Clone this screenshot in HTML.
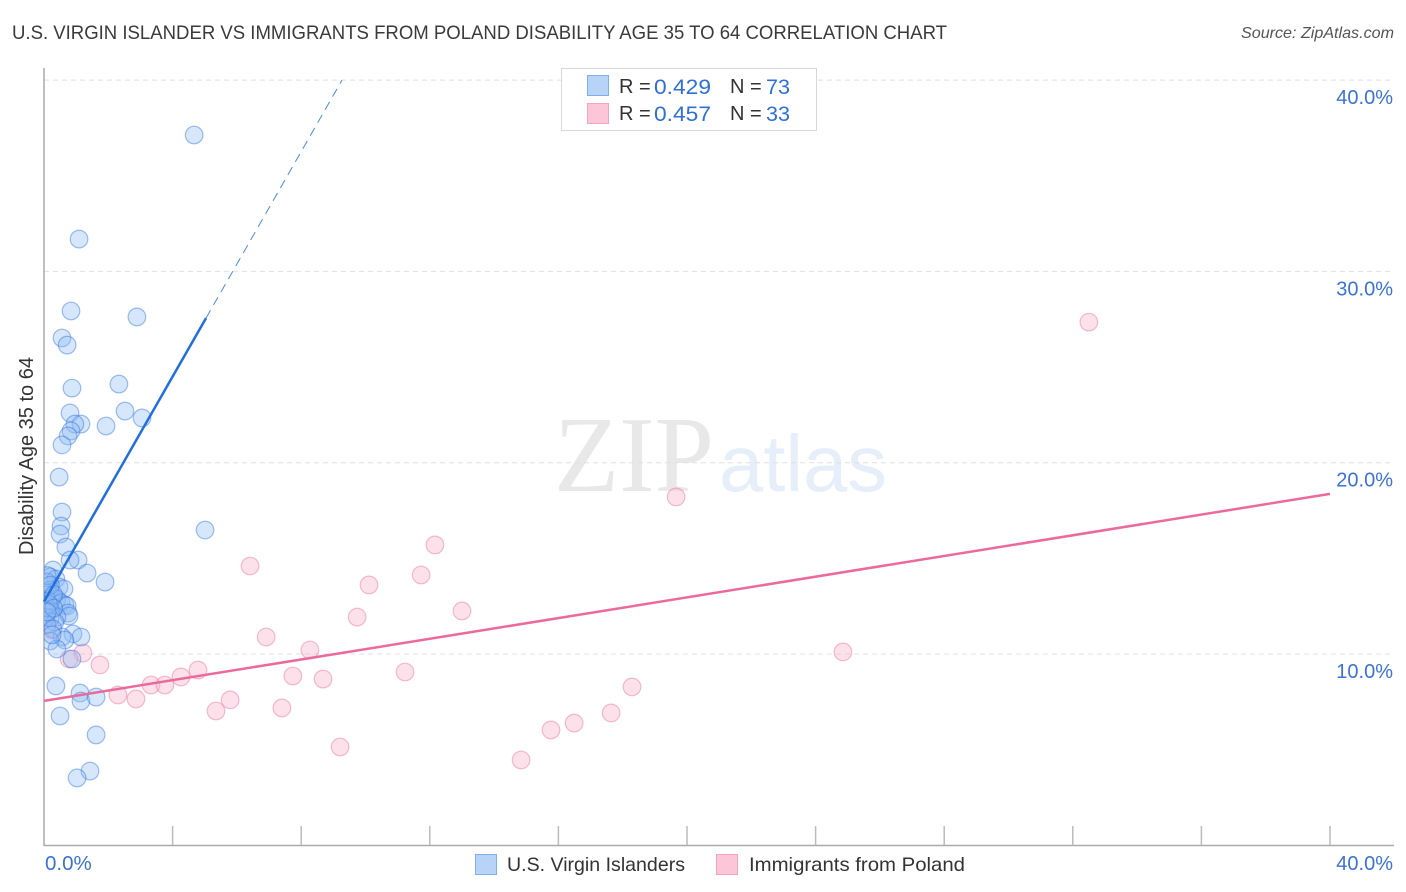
<!DOCTYPE html>
<html>
<head>
<meta charset="utf-8">
<title>U.S. Virgin Islander vs Immigrants from Poland Disability Age 35 to 64 Correlation Chart</title>
<style>
html,body{margin:0;padding:0;background:#fff;width:1406px;height:892px;overflow:hidden}
svg{display:block}
text{font-family:"Liberation Sans",sans-serif}
</style>
</head>
<body>
<svg id="chart" width="1406" height="892" viewBox="0 0 1406 892" xmlns="http://www.w3.org/2000/svg">
  <defs>
    <clipPath id="plot-clip"><rect x="44" y="60" width="1350" height="786"/></clipPath>
  </defs>
  <rect x="0" y="0" width="1406" height="892" fill="#ffffff"/>
  <text x="12" y="39" font-size="19" fill="#3a3a3a" textLength="935" lengthAdjust="spacingAndGlyphs">U.S. VIRGIN ISLANDER VS IMMIGRANTS FROM POLAND DISABILITY AGE 35 TO 64 CORRELATION CHART</text>
  <text x="1241" y="38" font-size="16" font-style="italic" fill="#555555" textLength="153" lengthAdjust="spacingAndGlyphs">Source: ZipAtlas.com</text>

  <g id="watermark">
    <text x="554" y="491" font-size="108" fill="#e8e8e8" style="font-family:'Liberation Serif',serif" textLength="160" lengthAdjust="spacingAndGlyphs">ZIP</text>
    <text x="719" y="491" font-size="80" fill="#e6eefa" textLength="168" lengthAdjust="spacingAndGlyphs">atlas</text>
  </g>

  <g id="grid"></g>
  <g id="axes"></g>
  <g id="pink-points" clip-path="url(#plot-clip)"></g>
  <g id="blue-points" clip-path="url(#plot-clip)"></g>
  <g id="trend-lines"></g>
  <g id="tick-labels"></g>

  <text transform="translate(33,456) rotate(-90)" font-size="20" fill="#333333" text-anchor="middle" textLength="198" lengthAdjust="spacingAndGlyphs">Disability Age 35 to 64</text>

  <g>
    <rect x="561.5" y="68.5" width="255" height="62" fill="#ffffff" stroke="#d8d8d8" stroke-width="1"/>
    <rect x="587.5" y="75.5" width="21" height="20" fill="#b8d3f8" stroke="#7fb0ec"/>
    <rect x="587.5" y="103.5" width="21" height="20" fill="#fcc6d8" stroke="#f3a5c0"/>
    <text x="619" y="93" font-size="20" fill="#333333">R =</text>
    <text x="654" y="94" font-size="21.5" fill="#2f6fd6" textLength="57" lengthAdjust="spacingAndGlyphs">0.429</text>
    <text x="730" y="93" font-size="20" fill="#333333">N =</text>
    <text x="766" y="94" font-size="21.5" fill="#2f6fd6" textLength="24" lengthAdjust="spacingAndGlyphs">73</text>
    <text x="619" y="120" font-size="20" fill="#333333">R =</text>
    <text x="654" y="121" font-size="21.5" fill="#2f6fd6" textLength="57" lengthAdjust="spacingAndGlyphs">0.457</text>
    <text x="730" y="120" font-size="20" fill="#333333">N =</text>
    <text x="766" y="121" font-size="21.5" fill="#2f6fd6" textLength="24" lengthAdjust="spacingAndGlyphs">33</text>
  </g>

  <g>
    <rect x="475.5" y="854.5" width="21" height="20" fill="#b8d3f8" stroke="#7fb0ec"/>
    <text x="507" y="871" font-size="19.5" fill="#333333" textLength="178" lengthAdjust="spacingAndGlyphs">U.S. Virgin Islanders</text>
    <rect x="716.5" y="854.5" width="21" height="20" fill="#fcc6d8" stroke="#f3a5c0"/>
    <text x="749" y="871" font-size="19.5" fill="#333333" textLength="216" lengthAdjust="spacingAndGlyphs">Immigrants from Poland</text>
  </g>
</svg>
<script>
const blueX = [4.67,1.09,.84,2.89,.56,.72,2.33,.87,2.52,.81,3.05,1.15,.96,1.93,.84,.75,.56,.47,.56,.53,.50,5.01,.68,1.06,.81,1.34,1.90,.28,.19,.37,.09,.47,.62,.19,.06,.28,.40,.12,.53,.65,.06,.19,.72,.75,.78,.40,.19,.06,.34,.09,.28,.90,1.15,.56,.65,.19,.40,.87,.37,1.12,1.15,1.62,.50,1.62,1.43,1.03,.10,.20,.30,.15,.30,.10,.25];
const blueY = [37.13,31.69,27.93,27.62,26.52,26.15,24.11,23.90,22.70,22.60,22.34,22.02,22.02,21.92,21.66,21.40,20.93,19.25,17.42,16.69,16.27,16.48,15.59,14.91,14.91,14.23,13.76,14.39,14.03,13.92,13.76,13.50,13.40,13.35,13.08,12.98,12.87,12.77,12.67,12.56,12.51,12.30,12.51,12.14,11.99,11.93,11.88,11.93,11.67,11.52,11.31,11.05,10.89,10.89,10.73,10.68,10.26,9.74,8.33,7.96,7.54,7.75,6.76,5.77,3.88,3.52,14.10,13.60,13.10,12.60,12.40,12.20,11.00];
const pinkX = [32.50,19.66,12.16,6.41,11.73,10.11,13.00,9.74,6.91,8.27,24.85,1.21,.78,1.74,4.79,11.23,4.26,7.74,8.68,3.33,3.76,18.29,2.30,2.86,5.79,5.35,7.40,17.64,16.49,15.77,9.21,14.84,.25];
const pinkY = [27.35,18.21,15.70,14.60,14.13,13.61,12.25,11.93,10.89,10.21,10.11,10.05,9.74,9.43,9.16,9.06,8.80,8.85,8.69,8.38,8.38,8.28,7.86,7.65,7.60,7.02,7.18,6.92,6.39,6.03,5.14,4.46,11.25];
const blueTrendX = [0,5.04];
const blueTrendY = [12.74,27.56];
const blueDashX = [5.04,9.27];
const blueDashY = [27.56,40];
const pinkTrendX = [0,40];
const pinkTrendY = [7.55,18.37];
const xTicks = [0,4,8,12,16,20,24,28,32,36,40];
const yGridValues = [10,20,30,40];
const yTickLabels = ["10.0%","20.0%","30.0%","40.0%"];
const xEndLabels = ["0.0%","40.0%"];
const xEndValues = [0,40];

const SVGNS = 'http://www.w3.org/2000/svg';
function sx(v){ return 44 + v * 32.15; }
function sy(v){ return 845.3 - v * 19.13; }
function make(tag, parentId, attrs){
  const el = document.createElementNS(SVGNS, tag);
  for (const k in attrs) el.setAttribute(k, attrs[k]);
  document.getElementById(parentId).appendChild(el);
  return el;
}

yGridValues.forEach(function(v){
  const el = make('line','grid',{x1:44,x2:1393,y1:sy(v),y2:sy(v),stroke:'#e0e0e0','stroke-width':1,'stroke-dasharray':'5 4'});
  
  
});

const yAxis = make('line','axes',{x1:44,x2:44,y1:68,y2:846,stroke:'#aaaaaa','stroke-width':1.5});


const xAxis = make('line','axes',{x1:44,x2:1394,y1:845.5,y2:845.5,stroke:'#aaaaaa','stroke-width':1.5});


xTicks.forEach(function(v){
  if (v === 0) return;
  const el = make('line','axes',{x1:sx(v),x2:sx(v),y1:826,y2:845,stroke:'#bbbbbb','stroke-width':1.5});
  
  
});

pinkX.forEach(function(v,i){
  const el = make('circle','pink-points',{cx:sx(v),cy:sy(pinkY[i]),r:8.8,fill:'rgba(248,180,204,0.40)',stroke:'rgba(232,120,160,0.48)','stroke-width':1.2});
  
  
});
blueX.forEach(function(v,i){
  const el = make('circle','blue-points',{cx:sx(v),cy:sy(blueY[i]),r:8.8,fill:'rgba(140,185,243,0.36)',stroke:'rgba(45,115,220,0.45)','stroke-width':1.2});
  
  
});

const blueLine = make('line','trend-lines',{x1:sx(blueTrendX[0]),y1:sy(blueTrendY[0]),x2:sx(blueTrendX[1]),y2:sy(blueTrendY[1]),stroke:'#1f6fdc','stroke-width':2.5});


const blueDash = make('line','trend-lines',{x1:sx(blueDashX[0]),y1:sy(blueDashY[0]),x2:sx(blueDashX[1]),y2:sy(blueDashY[1]),stroke:'#4a8ae0','stroke-width':1,'stroke-dasharray':'9 6'});


const pinkLine = make('line','trend-lines',{x1:sx(pinkTrendX[0]),y1:sy(pinkTrendY[0]),x2:sx(pinkTrendX[1]),y2:sy(pinkTrendY[1]),stroke:'#ec6a9a','stroke-width':2.5});



yTickLabels.forEach(function(t,i){
  const el = make('text','tick-labels',{x:1393,y:sy(yGridValues[i])+24,'font-size':20,fill:'#3b72d6','text-anchor':'end'});
  el.textContent = t;
  
  
});
xEndLabels.forEach(function(t,i){
  const el = make('text','tick-labels',{x:i === 0 ? sx(xEndValues[i]) + 1 : 1393,y:870,'font-size':i === 0 ? 20.5 : 20,fill:'#3b72d6','text-anchor':i === 0 ? 'start' : 'end'});
  el.textContent = t;
  
  
});
</script>
</body>
</html>
